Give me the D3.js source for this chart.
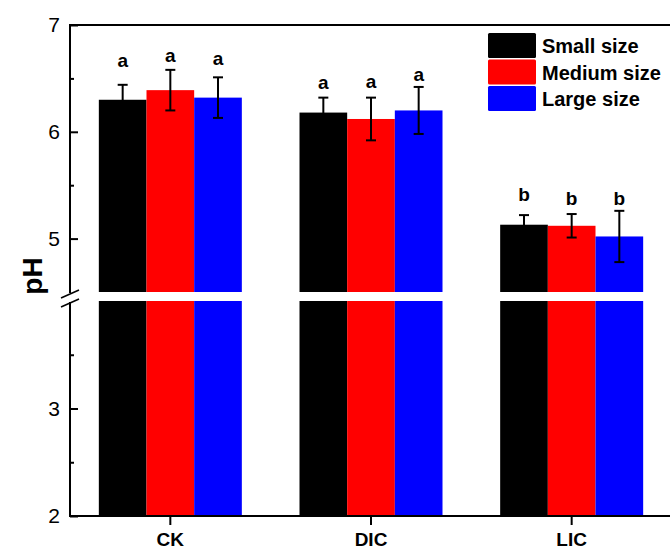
<!DOCTYPE html>
<html><head><meta charset="utf-8">
<script src="https://cdn.jsdelivr.net/npm/d3@7"></script>
<style>
html,body{margin:0;padding:0;background:#fff;}
svg{display:block;font-family:Arial,"Liberation Sans",Helvetica,sans-serif;}
</style></head>
<body>
<svg id="chart" width="670" height="549"></svg>
<script>
// ---- data ----
const categories = ["CK", "DIC", "LIC"];
const seriesNames = ["Small size", "Medium size", "Large size"];
const seriesColors = ["#000000", "#ff0000", "#0000ff"];
const smallVals  = [6.30, 6.18, 5.13];
const mediumVals = [6.39, 6.12, 5.12];
const largeVals  = [6.32, 6.20, 5.02];
const smallErr   = [0.14, 0.14, 0.09];
const mediumErr  = [0.19, 0.20, 0.11];
const largeErr   = [0.19, 0.22, 0.24];
const smallLetters  = ["a", "a", "b"];
const mediumLetters = ["a", "a", "b"];
const largeLetters  = ["a", "a", "b"];
const smallLetterAt  = [6.61, 6.40, 5.35];
const mediumLetterAt = [6.65, 6.41, 5.31];
const largeLetterAt  = [6.63, 6.48, 5.31];
const upperMajorTicks = [5, 6, 7];
const upperMinorTicks = [5.5, 6.5];
const lowerMajorTicks = [2, 3];
const lowerMinorTicks = [2.5, 3.5];
const lowerDomain = [2, 4];
const upperDomain = [4.5, 7];
const yTitle = "pH";

(function () {
const vals = [smallVals, mediumVals, largeVals];
const errs = [smallErr, mediumErr, largeErr];
const letters = [smallLetters, mediumLetters, largeLetters];
const letterAt = [smallLetterAt, mediumLetterAt, largeLetterAt];

const rows = [];
categories.forEach((c, i) => {
  seriesNames.forEach((s, j) => {
    rows.push({cat: c, ser: s, color: seriesColors[j], v: vals[j][i], e: errs[j][i],
               letter: letters[j][i], lpos: letterAt[j][i]});
  });
});

// ---- layout ----
const svg = d3.select("#chart");
const mL = 70, mR = 672, mT = 25, mB = 516;
const breakUpper = 292, breakLower = 301;

const x = d3.scaleBand().domain(categories).range([mL, mR]).padding(0);
const groupW = 143;
const x1 = d3.scaleBand().domain(seriesNames).range([-groupW / 2, groupW / 2]).padding(0);
const yU = d3.scaleLinear().domain(upperDomain).range([breakUpper, mT]);
const yL = d3.scaleLinear().domain(lowerDomain).range([mB, breakLower]);
function yAny(v) { return v >= upperDomain[0] ? yU(v) : yL(Math.min(v, lowerDomain[1])); }

const cx = d => x(d.cat) + x.bandwidth() / 2 + x1(d.ser);

// bars: lower segment
svg.append("g").selectAll("rect").data(rows).join("rect")
  .attr("x", cx).attr("width", x1.bandwidth())
  .attr("y", d => yL(Math.min(d.v, lowerDomain[1])))
  .attr("height", d => yL(lowerDomain[0]) - yL(Math.min(d.v, lowerDomain[1])))
  .attr("fill", d => d.color);
// bars: upper segment
svg.append("g").selectAll("rect").data(rows.filter(d => d.v > upperDomain[0])).join("rect")
  .attr("x", cx).attr("width", x1.bandwidth())
  .attr("y", d => yU(d.v))
  .attr("height", d => yU(upperDomain[0]) - yU(d.v))
  .attr("fill", d => d.color);

// error bars
const capW = 5;
const eg = svg.append("g").attr("stroke", "#000").attr("stroke-width", 2);
rows.forEach(d => {
  const xc = cx(d) + x1.bandwidth() / 2;
  const y0 = yAny(d.v - d.e), y1 = yAny(d.v + d.e);
  eg.append("line").attr("x1", xc).attr("x2", xc).attr("y1", y0).attr("y2", y1);
  eg.append("line").attr("x1", xc - capW).attr("x2", xc + capW).attr("y1", y0).attr("y2", y0);
  eg.append("line").attr("x1", xc - capW).attr("x2", xc + capW).attr("y1", y1).attr("y2", y1);
});

// significance letters
svg.append("g").selectAll("text").data(rows).join("text")
  .attr("x", d => cx(d) + x1.bandwidth() / 2)
  .attr("y", d => yAny(d.lpos))
  .attr("text-anchor", "middle")
  .attr("font-weight", "bold").attr("font-size", 19)
  .text(d => d.letter);

// y axes
function styleAxis(g) {
  g.select(".domain").remove();
  g.selectAll(".tick line").attr("stroke", "#000").attr("stroke-width", 2);
  g.selectAll(".tick text").attr("fill", "#000").attr("font-size", 21)
    .attr("font-family", "Arial, 'Liberation Sans', sans-serif");
}
svg.append("g").attr("transform", `translate(${mL},0)`)
  .call(d3.axisLeft(yU).tickValues(upperMajorTicks).tickSize(-8).tickPadding(10).tickFormat(d3.format("d")))
  .call(styleAxis);
svg.append("g").attr("transform", `translate(${mL},0)`)
  .call(d3.axisLeft(yU).tickValues(upperMinorTicks).tickSize(-4).tickFormat(""))
  .call(styleAxis);
svg.append("g").attr("transform", `translate(${mL},0)`)
  .call(d3.axisLeft(yL).tickValues(lowerMajorTicks).tickSize(-8).tickPadding(10).tickFormat(d3.format("d")))
  .call(styleAxis);
svg.append("g").attr("transform", `translate(${mL},0)`)
  .call(d3.axisLeft(yL).tickValues(lowerMinorTicks).tickSize(-4).tickFormat(""))
  .call(styleAxis);

// x axis
const xa = svg.append("g").attr("transform", `translate(0,${mB})`)
  .call(d3.axisBottom(x).tickSize(9).tickPadding(8));
xa.select(".domain").remove();
xa.selectAll(".tick line").attr("stroke", "#000").attr("stroke-width", 2);
xa.selectAll(".tick text").attr("fill", "#000").attr("font-size", 19).attr("font-weight", "bold")
  .attr("font-family", "Arial, 'Liberation Sans', sans-serif");

// frame lines
const fr = svg.append("g").attr("stroke", "#000").attr("stroke-width", 2).attr("fill", "none");
fr.append("line").attr("x1", mL - 1).attr("x2", mR + 2).attr("y1", mT).attr("y2", mT);
fr.append("line").attr("x1", mL - 1).attr("x2", mR + 2).attr("y1", mB).attr("y2", mB);
fr.append("line").attr("x1", mR).attr("x2", mR).attr("y1", mT).attr("y2", mB);
fr.append("line").attr("x1", mL).attr("x2", mL).attr("y1", mT - 1).attr("y2", 293);
fr.append("line").attr("x1", mL).attr("x2", mL).attr("y1", 302).attr("y2", mB + 1);
// break marks
fr.append("line").attr("x1", 61).attr("x2", 79).attr("y1", 298).attr("y2", 290).attr("stroke-width", 1.6);
fr.append("line").attr("x1", 61).attr("x2", 79).attr("y1", 307).attr("y2", 299).attr("stroke-width", 1.6);

// y title
svg.append("text").attr("transform", "translate(42,276) rotate(-90)")
  .attr("text-anchor", "middle").attr("font-weight", "bold").attr("font-size", 28)
  .text(yTitle);

// legend
const lg = svg.append("g").attr("transform", "translate(488,33)");
seriesNames.forEach((s, j) => {
  lg.append("rect").attr("x", 0).attr("y", j * 26.5).attr("width", 48).attr("height", 25)
    .attr("rx", 1.5).attr("fill", seriesColors[j]);
  lg.append("text").attr("x", 54).attr("y", j * 26.5 + 20).attr("font-weight", "bold")
    .attr("font-size", 20).text(s);
});
})();
</script>
</body></html>
